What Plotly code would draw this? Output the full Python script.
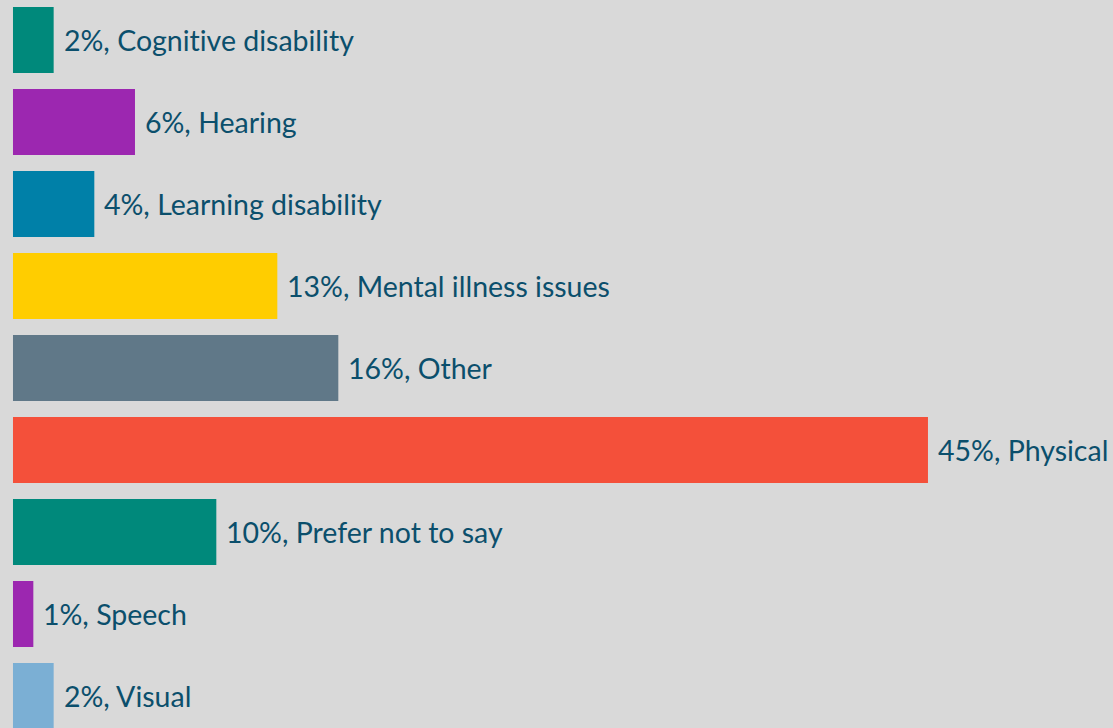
import plotly.graph_objects as go

# Share of respondents by type of disability
categories = [
    "Cognitive disability",
    "Hearing",
    "Learning disability",
    "Mental illness issues",
    "Other",
    "Physical",
    "Prefer not to say",
    "Speech",
    "Visual",
]
percentages = [2, 6, 4, 13, 16, 45, 10, 1, 2]
bar_colors = [
    "#00897b",
    "#9c27b0",
    "#0080a8",
    "#ffcd00",
    "#607888",
    "#f4503a",
    "#00897b",
    "#9c27b0",
    "#7bafd4",
]

TEXT_COLOR = "#0b4f6c"
BG = "#d9d9d9"

positions = list(range(len(categories)))

fig = go.Figure(
    go.Bar(
        x=percentages,
        y=positions,
        orientation="h",
        marker=dict(color=bar_colors, line=dict(width=0)),
        width=0.805,
        hoverinfo="skip",
    )
)

for pos, val, cat in zip(positions, percentages, categories):
    # zero-width non-joiner keeps "t" and "i" from fusing into a ligature
    label = f"{val}%, {cat}".replace("ti", "t\u200ci")
    fig.add_annotation(
        x=val,
        y=pos,
        xref="x",
        yref="y",
        text=label,
        showarrow=False,
        xanchor="left",
        yanchor="middle",
        xshift=8,
        font=dict(family="Lato, Open Sans, sans-serif", size=28.5, color=TEXT_COLOR),
    )

fig.update_layout(
    width=1113,
    height=728,
    margin=dict(l=0, r=0, t=0, b=0),
    paper_bgcolor=BG,
    plot_bgcolor=BG,
    showlegend=False,
    xaxis=dict(
        range=[-0.639, 54.1],
        visible=False,
        showgrid=False,
        zeroline=False,
    ),
    yaxis=dict(
        range=[8.39, -0.488],
        visible=False,
        showgrid=False,
        zeroline=False,
    ),
)

fig.write_html("out.html")
